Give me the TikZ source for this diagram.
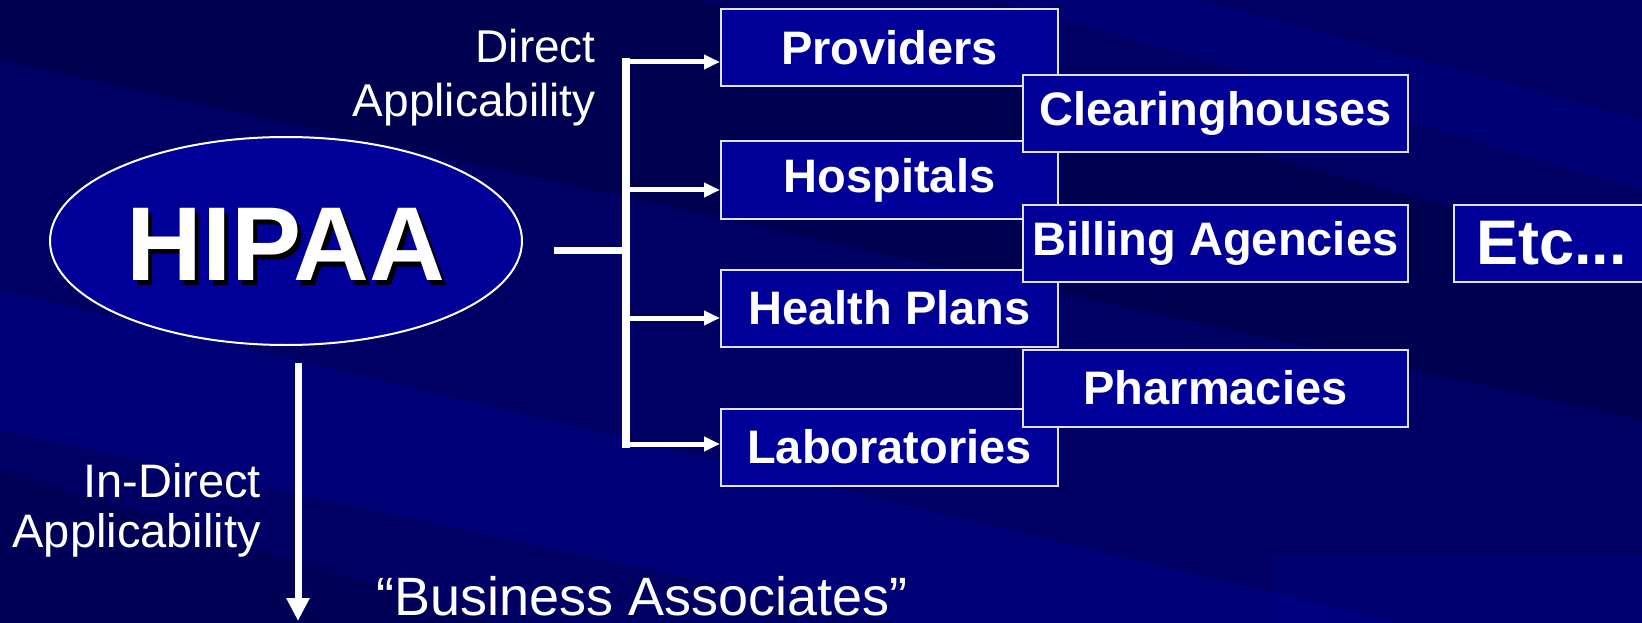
\documentclass[tikz,border=0pt]{standalone}
\usepackage{fontspec}
\setmainfont{Liberation Sans}
\usetikzlibrary{arrows.meta}
\usetikzlibrary{positioning}
\usetikzlibrary{shapes.geometric}
\definecolor{slidebg}{RGB}{0,0,100}
\definecolor{slidestreak}{RGB}{0,0,165}
\definecolor{slidedark}{RGB}{0,0,60}
\definecolor{boxblue}{RGB}{0,0,153}
\definecolor{boxline}{RGB}{225,225,235}
\tikzset{
  entity/.style={draw=boxline, line width=2pt, fill=boxblue, text=white,
    font=\bfseries\fontsize{47}{56}\selectfont, minimum height=77pt, inner sep=0pt},
  leftbox/.style={entity, minimum width=337pt},
  rightbox/.style={entity, minimum width=385pt},
  branch/.style={white, line width=5pt, -{Triangle[length=16pt,width=14pt]}},
  remark/.style={text=white, inner sep=0pt, align=right},
}

\begin{document}
\begin{tikzpicture}[x=1pt,y=-1pt]
  \useasboundingbox (0,0) rectangle (1642,623);
  \fill[slidebg] (0,0) rectangle (1642,623);
  \fill[slidedark, opacity=0.45] (0,0) -- (700,0) -- (1642,260) -- (1642,420) -- (0,60) -- cycle;
  \fill[slidestreak, opacity=0.3] (0,290) -- (0,430) -- (900,623) -- (1400,623) -- cycle;
  \fill[slidestreak, opacity=0.25] (1000,0) -- (1200,0) -- (1642,120) -- (1642,190) -- cycle;
  \fill[slidedark, opacity=0.3] (0,470) -- (0,623) -- (500,623) -- cycle;
  \fill[slidestreak, opacity=0.2] (1272,556) rectangle (1642,623);

  \node[ellipse, draw=white, line width=2pt, fill=boxblue, minimum width=472pt,
    minimum height=208pt, inner sep=0pt] (hipaa) at (286,241) {};
  \node[text=black, font=\bfseries\fontsize{105}{120}\selectfont] (hipaashadow)
    at (290,249) {HIPAA};
  \node[text=white, font=\bfseries\fontsize{105}{120}\selectfont] (hipaatext)
    at (286,244) {HIPAA};

  \node[leftbox] (providers) at (889.5,47.5) {Providers};
  \node[leftbox] (hospitals) at (889.5,180) {Hospitals};
  \node[leftbox] (healthplans) at (889.5,308) {Health Plans};
  \node[leftbox] (laboratories) at (889.5,447) {Laboratories};
  \node[rightbox] (clearinghouses) at (1215.5,113.5) {Clearinghouses};
  \node[rightbox] (billing) at (1215.5,243.5) {Billing Agencies};
  \node[rightbox] (pharmacies) at (1215.5,388) {Pharmacies};
  \node[entity, anchor=west, align=left, text width=196pt, inner xsep=22pt,
    font=\bfseries\fontsize{63}{70}\selectfont] (etc) at (1453,243.5) {Etc...};

  \coordinate (stem) at (554,250);
  \coordinate (fork) at (626,250);
  \coordinate (forktop) at (626,58);
  \coordinate (forkbottom) at (626,448);
  \draw[white, line width=7pt] (stem) -- (fork);
  \draw[white, line width=8pt] (forktop) -- (forkbottom);
  \draw[branch] ([yshift=-14.5pt]providers.west -| fork) -- ([yshift=-14.5pt]providers.west);
  \draw[branch] ([yshift=-10pt]hospitals.west -| fork) -- ([yshift=-10pt]hospitals.west);
  \draw[branch] ([yshift=-10pt]healthplans.west -| fork) -- ([yshift=-10pt]healthplans.west);
  \draw[branch] ([yshift=3pt]laboratories.west -| fork) -- ([yshift=3pt]laboratories.west);

  \node[remark, anchor=base east, font=\fontsize{46}{54}\selectfont] (direct)
    at (596,117) {Direct\\Applicability};
  \node[remark, anchor=base east, font=\fontsize{47}{50}\selectfont] (indirect)
    at (261,547) {In-Direct\\Applicability};
  \node[remark, anchor=base west, font=\fontsize{54}{60}\selectfont] (associates)
    at (376,615) {“Business Associates”};

  \coordinate (dropstart) at (298,363);
  \coordinate (droptip) at (298,621);
  \draw[white, line width=7pt, -{Triangle[length=23pt,width=22pt]}] (dropstart) -- (droptip);
\end{tikzpicture}
\end{document}
